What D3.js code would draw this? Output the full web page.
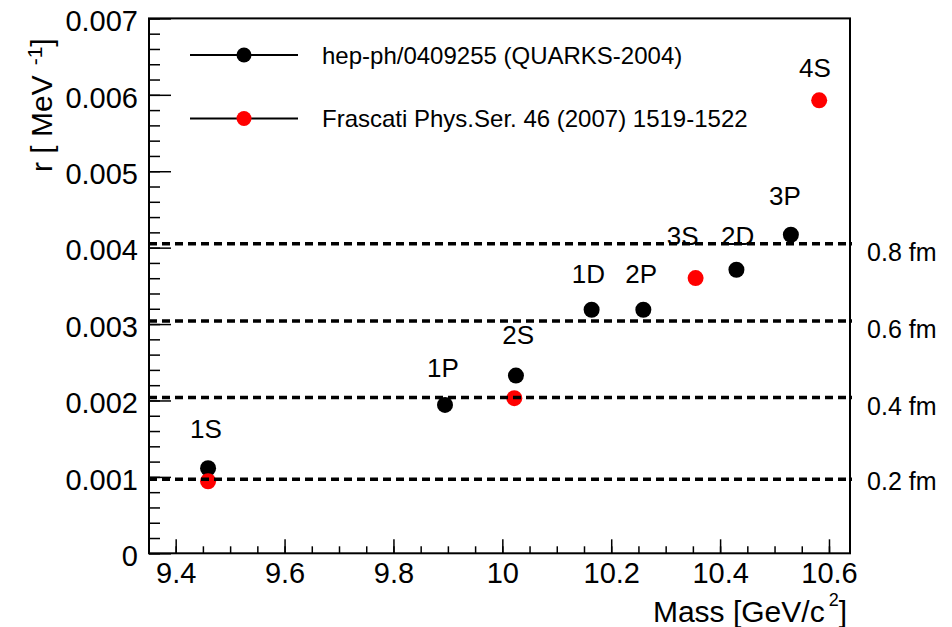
<!DOCTYPE html>
<html>
<head>
<meta charset="utf-8">
<script src="https://cdn.jsdelivr.net/npm/d3@7"></script>
<style>
    body { margin: 0; background: #fff; }
    svg { display: block; font-family: "Liberation Sans", Arial, Helvetica, sans-serif; }
</style>
</head>
<body>
<script>
// series 1: hep-ph/0409255, series 2: Frascati Phys.Ser. 46
const blackMass = [9.4595, 9.8947, 10.025, 10.164, 10.259, 10.430, 10.530];
const blackR = [0.001113, 0.001942, 0.002326, 0.003187, 0.003187, 0.003711, 0.004169];
const redMass = [9.4595, 10.022, 10.355, 10.582];
const redR = [0.000943, 0.002030, 0.003602, 0.005928];

const stateNames = ["1S", "1P", "2S", "1D", "2P", "3S", "2D", "3P", "4S"];
const stateMass = [9.4263, 9.8616, 10.0, 10.1274, 10.2259, 10.302, 10.4016, 10.490, 10.545];
const stateR = [0.00151, 0.002312, 0.002738, 0.00354, 0.00354, 0.004029, 0.004029, 0.004562, 0.006234];

const fmLabels = ["0.2 fm", "0.4 fm", "0.6 fm", "0.8 fm"];
const fmLineR = [0.00097, 0.00204, 0.00304, 0.00405];
const fmLabelR = [0.00083, 0.00181, 0.00282, 0.00382];
const fmLabelMass = 10.67;

const xTicks = [9.4, 9.6, 9.8, 10, 10.2, 10.4, 10.6];
const xTickLabels = ["9.4", "9.6", "9.8", "10", "10.2", "10.4", "10.6"];
const yTicks = [0, 0.001, 0.002, 0.003, 0.004, 0.005, 0.006, 0.007];
const yTickLabels = ["0", "0.001", "0.002", "0.003", "0.004", "0.005", "0.006", "0.007"];

const legendNames = ["hep-ph/0409255 (QUARKS-2004)", "Frascati Phys.Ser. 46 (2007) 1519-1522"];
const legendColors = ["black", "red"];

let width = 952, height = 627;
let padLeft = 149, padRight = 850, padTop = 18.4, padBottom = 553.3;

var svg = d3.select("body")
            .append("svg")
            .attr("width", width)
            .attr("height", height);

var xScale = d3.scaleLinear()
            .domain([9.351, 10.6386])
            .range([padLeft, padRight]);

var yScale = d3.scaleLinear()
            .domain([0, 0.007])
            .range([padBottom, padTop]);

// minor ticks
let xMinor = d3.range(0, 26).map((i) => 9.35 + i * 0.05).filter((v) => v <= 10.63);
let yMinor = d3.range(0, 36).map((i) => i * 0.0002);

svg.append("g")
   .attr("transform", `translate(0, ${padBottom})`)
   .call(d3.axisBottom(xScale).tickValues(xMinor).tickSize(-7).tickFormat(""))
   .call((g) => g.select(".domain").remove())
   .call((g) => g.selectAll("line").attr("stroke", "black").attr("stroke-width", 1.5));

svg.append("g")
   .attr("transform", `translate(${padLeft}, 0)`)
   .call(d3.axisLeft(yScale).tickValues(yMinor).tickSize(-11).tickFormat(""))
   .call((g) => g.select(".domain").remove())
   .call((g) => g.selectAll("line").attr("stroke", "black").attr("stroke-width", 1.5));

// major ticks + labels
svg.append("g")
   .attr("transform", `translate(0, ${padBottom})`)
   .call(d3.axisBottom(xScale).tickValues(xTicks).tickSize(-14).tickPadding(9)
         .tickFormat((d, i) => xTickLabels[i]))
   .call((g) => g.select(".domain").remove())
   .call((g) => g.selectAll("line").attr("stroke", "black").attr("stroke-width", 1.5))
   .call((g) => g.selectAll("text").attr("fill", "black")
                 .style("font-size", "29px").style("font-family", "Liberation Sans, Arial, sans-serif"));

svg.append("g")
   .attr("transform", `translate(${padLeft}, 0)`)
   .call(d3.axisLeft(yScale).tickValues(yTicks).tickSize(-22).tickPadding(11)
         .tickFormat((d, i) => yTickLabels[i]))
   .call((g) => g.select(".domain").remove())
   .call((g) => g.selectAll("line").attr("stroke", "black").attr("stroke-width", 1.5))
   .call((g) => g.selectAll("text").attr("fill", "black").attr("dy", "0.42em")
                 .style("font-size", "29px").style("font-family", "Liberation Sans, Arial, sans-serif"));

// frame
svg.append("rect")
   .attr("x", padLeft)
   .attr("y", padTop)
   .attr("width", padRight - padLeft)
   .attr("height", padBottom - padTop)
   .attr("fill", "none")
   .attr("stroke", "black")
   .attr("stroke-width", 2);

// points
for(let i = 0; i < blackMass.length; i++){
    svg.append("circle")
       .attr("cx", xScale(blackMass[i]))
       .attr("cy", yScale(blackR[i]))
       .attr("r", 8)
       .attr("fill", "black");
}
for(let i = 0; i < redMass.length; i++){
    svg.append("circle")
       .attr("cx", xScale(redMass[i]))
       .attr("cy", yScale(redR[i]))
       .attr("r", 8)
       .attr("fill", "red");
}

// dashed radius lines
for(let i = 0; i < fmLineR.length; i++){
    svg.append("line")
       .attr("x1", padLeft)
       .attr("x2", padRight + 2)
       .attr("y1", yScale(fmLineR[i]))
       .attr("y2", yScale(fmLineR[i]))
       .attr("stroke", "black")
       .attr("stroke-width", 3.5)
       .attr("stroke-dasharray", "8,5");
    svg.append("text")
       .attr("x", xScale(fmLabelMass))
       .attr("y", yScale(fmLabelR[i]))
       .style("font-size", "25px")
       .text(fmLabels[i]);
}

// state labels
for(let i = 0; i < stateNames.length; i++){
    svg.append("text")
       .attr("x", xScale(stateMass[i]))
       .attr("y", yScale(stateR[i]))
       .style("font-size", "26px")
       .text(stateNames[i]);
}

// legend
for(let i = 0; i < legendNames.length; i++){
    let ly = 55 + i * 63.5;
    svg.append("line")
       .attr("x1", 190).attr("x2", 298)
       .attr("y1", ly).attr("y2", ly)
       .attr("stroke", "black").attr("stroke-width", 2);
    svg.append("circle")
       .attr("cx", 244).attr("cy", ly)
       .attr("r", 7.5)
       .attr("fill", legendColors[i]);
    svg.append("text")
       .attr("x", 322)
       .attr("y", ly + 8.5)
       .style("font-size", "24px")
       .text(legendNames[i]);
}

// axis titles
let xt = svg.append("text")
            .attr("x", 847)
            .attr("y", 621.5)
            .attr("text-anchor", "end")
            .style("font-size", "30px");
xt.append("tspan").text("Mass [GeV/c");
xt.append("tspan").attr("dx", 4).attr("dy", -16).style("font-size", "18px").text("2");
xt.append("tspan").attr("dy", 16).text("]");

let yt = svg.append("text")
            .attr("transform", "translate(52, 172) rotate(-90)")
            .style("font-size", "30px");
yt.append("tspan").text("r [ MeV");
yt.append("tspan").attr("dx", 10).attr("dy", -10).style("font-size", "21px").text("-1");
yt.append("tspan").attr("dy", 10).text("]");
</script>
</body>
</html>
